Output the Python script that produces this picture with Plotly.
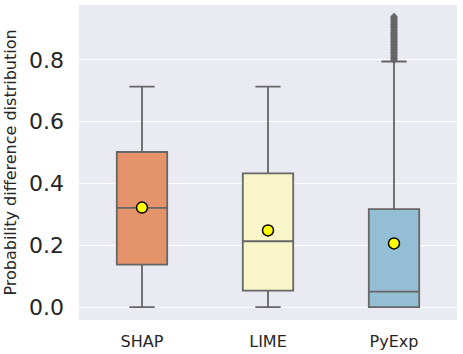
import plotly.graph_objects as go

methods = ["SHAP", "LIME", "PyExp"]
q1 = [0.137, 0.053, 0.0]
median = [0.321, 0.213, 0.05]
q3 = [0.502, 0.433, 0.317]
lower = [0.0, 0.0, 0.0]
upper = [0.714, 0.714, 0.795]
means = [0.322, 0.248, 0.206]
colors = ["#E5936A", "#F8F6C9", "#94BED4"]

# PyExp outliers above the upper whisker
pyexp_outliers = [0.80, 0.805, 0.81, 0.815, 0.82, 0.825, 0.83, 0.835, 0.84, 0.845,
                  0.85, 0.855, 0.86, 0.865, 0.87, 0.875, 0.88, 0.885, 0.89, 0.895,
                  0.90, 0.905, 0.91, 0.915, 0.92, 0.925, 0.93, 0.935, 0.94]

fig = go.Figure()

for i, m in enumerate(methods):
    fig.add_trace(go.Box(
        x=[m], q1=[q1[i]], median=[median[i]], q3=[q3[i]],
        lowerfence=[lower[i]], upperfence=[upper[i]],
        fillcolor=colors[i], line=dict(color="#666666", width=1.8),
        width=0.4, whiskerwidth=0.5, boxpoints=False, showlegend=False,
    ))

fig.add_trace(go.Scatter(
    x=["PyExp"] * len(pyexp_outliers), y=pyexp_outliers, mode="markers",
    marker=dict(symbol="diamond", size=6, color="#666666"),
    showlegend=False,
))

fig.add_trace(go.Scatter(
    x=methods, y=means, mode="markers",
    marker=dict(symbol="circle", size=11, color="#FFFF00",
                line=dict(color="black", width=1.5)),
    showlegend=False,
))

fig.update_layout(
    width=463, height=354,
    margin=dict(l=79, r=6, t=5, b=34),
    paper_bgcolor="white", plot_bgcolor="#EAEAF2",
    font=dict(family="DejaVu Sans", color="#262626"),
    xaxis=dict(showgrid=False, tickfont=dict(size=16), ticks="", automargin=False,
               range=[-0.5, 2.5], ticklabelstandoff=10),
    yaxis=dict(
        range=[-0.042, 0.978], tickvals=[0, 0.2, 0.4, 0.6, 0.8],
        ticktext=["0.0", "0.2", "0.4", "0.6", "0.8"],
        tickfont=dict(size=22), gridcolor="white", gridwidth=1.2, automargin=False,
        zeroline=False, ticks="", ticklabelstandoff=14,
        title=dict(text="Probability difference distribution", font=dict(size=16), standoff=8),
    ),
)

fig.write_html("out.html", config={"displayModeBar": False},
               post_script="document.body.style.margin='0';")
